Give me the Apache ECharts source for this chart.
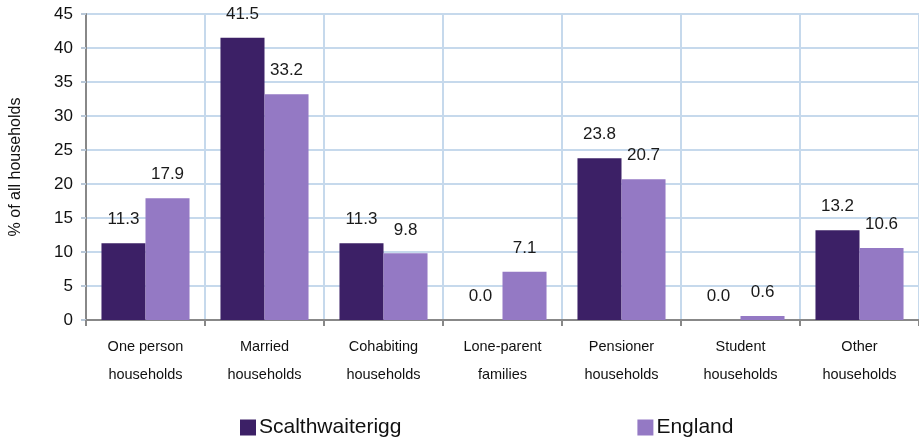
<!DOCTYPE html>
<html>
<head>
<meta charset="utf-8">
<script src="https://cdn.jsdelivr.net/npm/echarts@6/dist/echarts.min.js"></script>
<style>
  html, body { margin: 0; padding: 0; background: #fff; }
  #main { width: 919px; height: 437px; }
</style>
</head>
<body>
<div id="main"></div>
<script>
// household categories and % values
const categories = [
  'One person\nhouseholds', 'Married\nhouseholds', 'Cohabiting\nhouseholds',
  'Lone-parent\nfamilies', 'Pensioner\nhouseholds', 'Student\nhouseholds', 'Other\nhouseholds'
]
const scalthwaiterigg = [11.3, 41.5, 11.3, 0.0, 23.8, 0.0, 13.2]
const england = [17.9, 33.2, 9.8, 7.1, 20.7, 0.6, 10.6]
const yTicks = [0, 5, 10, 15, 20, 25, 30, 35, 40, 45]

var myChart = echarts.init(document.getElementById('main'))

var labelStyle = {
  show: true,
  position: 'top',
  distance: 15,
  fontFamily: 'Liberation Sans',
  fontSize: 17,
  color: '#1a1a1a',
  formatter: function (p) { return p.value.toFixed(1) }
}

var option = {
  animation: false,
  textStyle: { fontFamily: 'Liberation Sans' },
  grid: { left: 86, right: 0, top: 14, bottom: 117 },
  legend: {
    left: 235,
    top: 412,
    itemWidth: 16,
    itemHeight: 16,
    itemGap: 236,
    icon: 'rect',
    textStyle: { fontSize: 21, color: '#111', padding: [0, 0, 0, -2] },
    data: ['Scalthwaiterigg', 'England']
  },
  xAxis: {
    type: 'category',
    data: categories,
    axisLine: { lineStyle: { color: '#888', width: 2 } },
    axisTick: { show: true, length: 6, lineStyle: { color: '#888', width: 2 } },
    splitLine: { show: true, lineStyle: { color: '#c6d9ec', width: 2 } },
    axisLabel: {
      fontSize: 14.5,
      color: '#111',
      lineHeight: 28,
      margin: 13
    }
  },
  yAxis: {
    type: 'value',
    min: yTicks[0],
    max: yTicks[yTicks.length - 1],
    interval: 5,
    name: '% of all households',
    nameLocation: 'middle',
    nameGap: 62,
    nameTextStyle: { fontSize: 16, color: '#111' },
    axisLine: { show: true, lineStyle: { color: '#888', width: 2 } },
    axisTick: { show: true, length: 5, lineStyle: { color: '#b9c8d8', width: 2 } },
    splitLine: { show: true, lineStyle: { color: '#c6d9ec', width: 2 } },
    axisLabel: { fontSize: 17, color: '#111', margin: 13 }
  },
  series: [
    {
      name: 'Scalthwaiterigg',
      type: 'bar',
      data: scalthwaiterigg,
      barGap: '0%',
      barCategoryGap: '26%',
      itemStyle: { color: '#3c2066' },
      label: labelStyle
    },
    {
      name: 'England',
      type: 'bar',
      data: england,
      itemStyle: { color: '#9479c4' },
      label: labelStyle
    }
  ]
}

myChart.setOption(option)
</script>
</body>
</html>
